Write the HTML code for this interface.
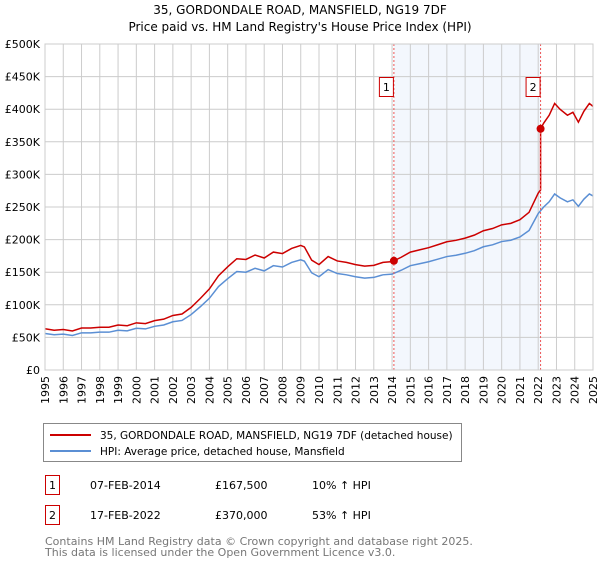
<!DOCTYPE html>
<html><head><meta charset="utf-8"><style>
body{margin:0;background:#fff;font-family:"Liberation Sans","DejaVu Sans",sans-serif;}
svg text{font-family:"DejaVu Sans","Liberation Sans",sans-serif;}
</style></head><body>
<svg id="chart" width="600" height="560" xmlns="http://www.w3.org/2000/svg">
<text x="300" y="14" text-anchor="middle" font-size="12">35, GORDONDALE ROAD, MANSFIELD, NG19 7DF</text>
<text x="300" y="31" text-anchor="middle" font-size="12">Price paid vs. HM Land Registry's House Price Index (HPI)</text>
<g id="grid"></g><g id="series"></g><g id="axes"></g>
<g>
<rect x="43.5" y="423.5" width="418" height="38" fill="#fff" stroke="#888"/>
<line x1="50" y1="435" x2="91" y2="435" stroke="#cc0000" stroke-width="2"/>
<text x="100" y="439" font-size="10.5">35, GORDONDALE ROAD, MANSFIELD, NG19 7DF (detached house)</text>
<line x1="50" y1="451" x2="91" y2="451" stroke="#5b8fd4" stroke-width="2"/>
<text x="100" y="455" font-size="10.5">HPI: Average price, detached house, Mansfield</text>
</g>
<g font-size="11">
<rect x="45.5" y="475.5" width="14" height="19" fill="#fff" stroke="#cc0000"/>
<text x="52.5" y="489" text-anchor="middle">1</text>
<text x="90" y="489">07-FEB-2014</text><text x="215" y="489">£167,500</text><text x="312" y="489">10% ↑ HPI</text>
<rect x="45.5" y="505.5" width="14" height="19" fill="#fff" stroke="#cc0000"/>
<text x="52.5" y="519" text-anchor="middle">2</text>
<text x="90" y="519">17-FEB-2022</text><text x="215" y="519">£370,000</text><text x="312" y="519">53% ↑ HPI</text>
</g>
<text x="45" y="545" font-size="11" fill="#777">Contains HM Land Registry data © Crown copyright and database right 2025.</text>
<text x="45" y="556" font-size="11" fill="#777">This data is licensed under the Open Government Licence v3.0.</text>
</svg>
<script>
const years=[1995,1995.5,1996,1996.5,1997,1997.5,1998,1998.5,1999,1999.5,2000,2000.5,2001,2001.5,2002,2002.5,2003,2003.5,2004,2004.5,2005,2005.5,2006,2006.5,2007,2007.5,2008,2008.5,2009,2009.2,2009.6,2010,2010.5,2011,2011.5,2012,2012.5,2013,2013.5,2014,2014.5,2015,2015.5,2016,2016.5,2017,2017.5,2018,2018.5,2019,2019.5,2020,2020.5,2021,2021.5,2022,2022.3,2022.6,2022.9,2023.2,2023.6,2023.9,2024.2,2024.5,2024.8,2025];
const hpi=[56,54,55,53,57,57,58,58,61,60,64,63,67,69,74,76,85,97,110,128,140,151,150,156,152,160,158,165,169,167,149,143,154,148,146,143,141,142,146,147,153,160,163,166,170,174,176,179,183,189,192,197,199,204,214,240,250,258,270,264,258,261,251,262,270,267];
const saleYears=[2014.1,2022.13];
const salePrices=[167.5,370];
const yTicks=[0,50,100,150,200,250,300,350,400,450,500];
const xTicks=[1995,1996,1997,1998,1999,2000,2001,2002,2003,2004,2005,2006,2007,2008,2009,2010,2011,2012,2013,2014,2015,2016,2017,2018,2019,2020,2021,2022,2023,2024,2025];
const X0=45,X1=593,Y0=370,Y1=44;
const xs=y=>X0+(y-1995)/30*(X1-X0);
const ys=v=>Y0-v/500*(Y0-Y1);
const NS='http://www.w3.org/2000/svg';
function mk(p,t,a){const e=document.createElementNS(NS,t);for(const k in a)e.setAttribute(k,a[k]);p.appendChild(e);return e;}
const grid=document.getElementById('grid'),ser=document.getElementById('series'),ax=document.getElementById('axes');
const band=mk(grid,'rect',{x:xs(saleYears[0]),y:Y1,width:xs(saleYears[1])-xs(saleYears[0]),height:Y0-Y1,fill:'#eef3fc',opacity:0.7});


yTicks.forEach(v=>{
 const l=mk(grid,'line',{x1:X0,x2:X1,y1:ys(v),y2:ys(v),stroke:'#cccccc'});
 
 
 const t=mk(ax,'text',{x:40,y:ys(v)+4,'text-anchor':'end','font-size':11});
 
 
 t.textContent=v===0?'£0':'£'+v+'K';
});
xTicks.forEach(y=>{
 const l=mk(grid,'line',{x1:xs(y),x2:xs(y),y1:Y1,y2:Y0,stroke:'#cccccc'});
 
 
 const t=mk(ax,'text',{x:0,y:0,'text-anchor':'end','font-size':11,transform:`translate(${xs(y)+4},376) rotate(-90)`});
 
 
 t.textContent=y;
});
const hp=mk(ser,'polyline',{points:years.map((y,i)=>xs(y)+','+ys(hpi[i])).join(' '),fill:'none',stroke:'#5b8fd4','stroke-width':1.5});


function hpiAt(t){for(let i=1;i<years.length;i++){if(t<=years[i]){const f=(t-years[i-1])/(years[i]-years[i-1]);return hpi[i-1]+f*(hpi[i]-hpi[i-1]);}}return hpi[hpi.length-1];}
const r1=salePrices[0]/hpiAt(saleYears[0]),r2=salePrices[1]/hpiAt(saleYears[1]);
const pts=[];
years.forEach((y,i)=>{if(y<saleYears[1])pts.push([y,hpi[i]*r1]);});
pts.push([saleYears[1],hpiAt(saleYears[1])*r1]);
pts.push([saleYears[1],salePrices[1]]);
years.forEach((y,i)=>{if(y>saleYears[1])pts.push([y,hpi[i]*r2]);});
const pl=mk(ser,'polyline',{points:pts.map(p=>xs(p[0])+','+ys(p[1])).join(' '),fill:'none',stroke:'#cc0000','stroke-width':1.5});


saleYears.forEach((y,i)=>{
 const l=mk(ser,'line',{x1:xs(y),x2:xs(y),y1:Y1,y2:Y0,stroke:'#ee5555','stroke-dasharray':'2,2','stroke-width':1});
 
 
 const c=mk(ser,'circle',{cx:xs(y),cy:ys(salePrices[i]),r:4,fill:'#cc0000'});
 
 
 const b=mk(ser,'rect',{x:xs(y)-14.5,y:77.5,width:14,height:19,fill:'#fff',stroke:'#cc0000'});
 
 
 const t=mk(ser,'text',{x:xs(y)-7.5,y:91,'text-anchor':'middle','font-size':11});
 
 
 t.textContent=i+1;
});
const fr=mk(ax,'rect',{x:X0,y:Y1,width:X1-X0,height:Y0-Y1,fill:'none',stroke:'#cccccc'});


</script>
</body></html>
